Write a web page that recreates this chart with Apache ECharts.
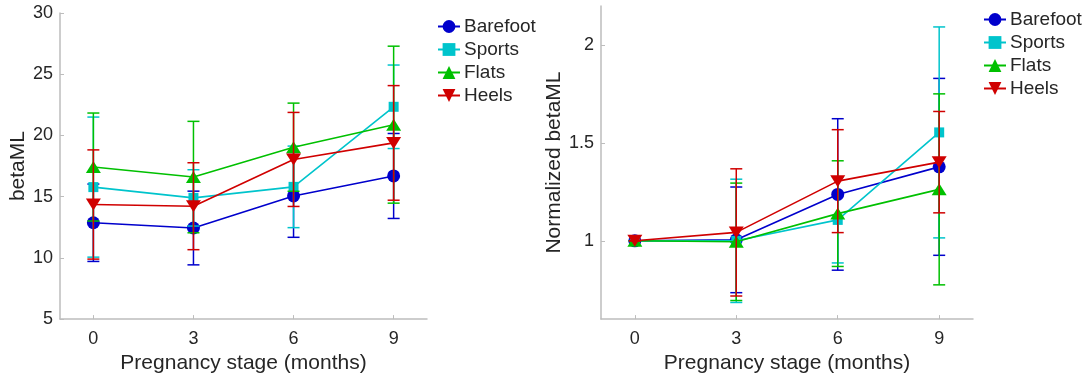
<!DOCTYPE html>
<html>
<head>
<meta charset="utf-8">
<script src="https://cdn.jsdelivr.net/npm/echarts@6/dist/echarts.min.js"></script>
<style>
html,body{margin:0;padding:0;background:#fff;}
#chart{width:1090px;height:379px;}
</style>
</head>
<body>
<div id="chart"></div>
<script>
// ---- data ----
const months = [0, 3, 6, 9];
const groupNames = ['Barefoot', 'Sports', 'Flats', 'Heels'];
const xTickValues = [0, 3, 6, 9];
const yTickValuesNorm = [1, 1.5, 2];

// raw betaML (mean and half error bar)
const barefootRaw = [12.87, 12.44, 15.06, 16.69];
const barefootRawErr = [3.16, 3.01, 3.38, 3.47];
const sportsRaw = [15.78, 14.9, 15.8, 22.34];
const sportsRawErr = [5.72, 2.3, 3.33, 3.41];
const flatsRaw = [17.42, 16.6, 19.04, 20.88];
const flatsRawErr = [4.41, 4.55, 3.6, 6.41];
const heelsRaw = [14.36, 14.22, 18.04, 19.39];
const heelsRawErr = [4.46, 3.55, 3.84, 4.68];

// normalized betaML
const barefootNorm = [1, 1.005, 1.237, 1.378];
const barefootNormErr = [0, 0.27, 0.387, 0.452];
const sportsNorm = [1, 1.0, 1.107, 1.554];
const sportsNormErr = [0, 0.315, 0.22, 0.539];
const flatsNorm = [1, 0.995, 1.139, 1.263];
const flatsNormErr = [0, 0.30, 0.27, 0.488];
const heelsNorm = [1, 1.043, 1.305, 1.402];
const heelsNormErr = [0, 0.325, 0.263, 0.259];

// ---- styling ----
const colors = ['#0000cc', '#00c4cc', '#00c000', '#d00000'];
const symbols = ['circle', 'rect', 'triangle', 'path://M0,0 L10,0 L5,8 Z'];
const symbolSizes = [13, 10, [15, 12], [15, 12]];
const FONT = '"Liberation Sans", Arial, sans-serif';
const TXT = '#262626';
const AX = '#bdbdbd';

const rawMeans = [barefootRaw, sportsRaw, flatsRaw, heelsRaw];
const rawErrs = [barefootRawErr, sportsRawErr, flatsRawErr, heelsRawErr];
const normMeans = [barefootNorm, sportsNorm, flatsNorm, heelsNorm];
const normErrs = [barefootNormErr, sportsNormErr, flatsNormErr, heelsNormErr];

function errRenderer(color) {
  return function (params, api) {
    const x = api.value(0), lo = api.value(1), hi = api.value(2);
    const p1 = api.coord([x, hi]);
    const p2 = api.coord([x, lo]);
    const w = 6;
    const style = { stroke: color, lineWidth: 1.5, fill: null };
    return {
      type: 'group',
      children: [
        { type: 'line', shape: { x1: p1[0], y1: p1[1], x2: p2[0], y2: p2[1] }, style: style },
        { type: 'line', shape: { x1: p1[0] - w, y1: p1[1], x2: p1[0] + w, y2: p1[1] }, style: style },
        { type: 'line', shape: { x1: p2[0] - w, y1: p2[1], x2: p2[0] + w, y2: p2[1] }, style: style }
      ]
    };
  };
}

function makeSeries(means, errs, axisIndex) {
  const out = [];
  means.forEach(function (m, i) {
    out.push({
      type: 'custom',
      name: groupNames[i] + ' error',
      xAxisIndex: axisIndex, yAxisIndex: axisIndex,
      renderItem: errRenderer(colors[i]),
      encode: { x: 0, y: [1, 2] },
      data: months.map(function (x, k) { return [x, m[k] - errs[i][k], m[k] + errs[i][k]]; }),
      z: 2 + i * 2,
      silent: true
    });
    out.push({
      type: 'line',
      name: groupNames[i],
      xAxisIndex: axisIndex, yAxisIndex: axisIndex,
      data: months.map(function (x, k) { return [x, m[k]]; }),
      symbol: symbols[i],
      symbolSize: symbolSizes[i],
      showAllSymbol: true,
      color: colors[i],
      itemStyle: { color: colors[i] },
      lineStyle: { color: colors[i], width: 1.6 },
      z: 3 + i * 2,
      animation: false
    });
  });
  return out;
}

function xAxisDef(gi) {
  return {
    type: 'value', gridIndex: gi, min: -1, max: 10,
    name: 'Pregnancy stage (months)', nameLocation: 'middle', nameGap: 32,
    nameTextStyle: { fontFamily: FONT, fontSize: 21, color: TXT },
    axisLine: { show: true, onZero: false, lineStyle: { color: AX, width: 1.5 } },
    axisTick: { show: true, inside: true, length: 4, customValues: xTickValues, lineStyle: { color: AX } },
    axisLabel: { customValues: xTickValues, fontFamily: FONT, fontSize: 18, color: TXT, margin: 11 },
    splitLine: { show: false }
  };
}

function legendDef(left, top) {
  return {
    data: groupNames, orient: 'vertical', left: left, top: top, padding: 0,
    itemWidth: 22, itemHeight: 16, itemGap: 4,
    textStyle: { fontFamily: FONT, fontSize: 19, color: TXT, padding: [0, 0, 0, -1] },
    selectedMode: false
  };
}

const option = {
  animation: false,
  backgroundColor: '#ffffff',
  grid: [
    { left: 60, top: 13, width: 367, height: 308 },
    { left: 601, top: 6, width: 372, height: 314 }
  ],
  xAxis: [xAxisDef(0), xAxisDef(1)],
  yAxis: [
    {
      type: 'value', gridIndex: 0, min: 5, max: 30, interval: 5,
      name: 'betaML', nameLocation: 'middle', nameGap: 29,
      nameTextStyle: { fontFamily: FONT, fontSize: 21, color: TXT },
      axisLine: { show: true, onZero: false, lineStyle: { color: AX, width: 1.5 } },
      axisTick: { show: true, inside: true, length: 4, lineStyle: { color: AX } },
      axisLabel: { fontFamily: FONT, fontSize: 18, color: TXT, margin: 7 },
      splitLine: { show: false }
    },
    {
      type: 'value', gridIndex: 1, min: 0.6, max: 2.2,
      name: 'Normalized betaML', nameLocation: 'middle', nameGap: 35,
      nameTextStyle: { fontFamily: FONT, fontSize: 21, color: TXT },
      axisLine: { show: true, onZero: false, lineStyle: { color: AX, width: 1.5 } },
      axisTick: { show: true, inside: true, length: 4, customValues: yTickValuesNorm, lineStyle: { color: AX } },
      axisLabel: { customValues: yTickValuesNorm, fontFamily: FONT, fontSize: 18, color: TXT, margin: 7 },
      splitLine: { show: false }
    }
  ],
  legend: [legendDef(437, 17), legendDef(983, 10)],
  series: makeSeries(rawMeans, rawErrs, 0).concat(makeSeries(normMeans, normErrs, 1))
};

const chart = echarts.init(document.getElementById('chart'), null, { renderer: 'canvas' });
chart.setOption(option);
</script>
</body>
</html>
